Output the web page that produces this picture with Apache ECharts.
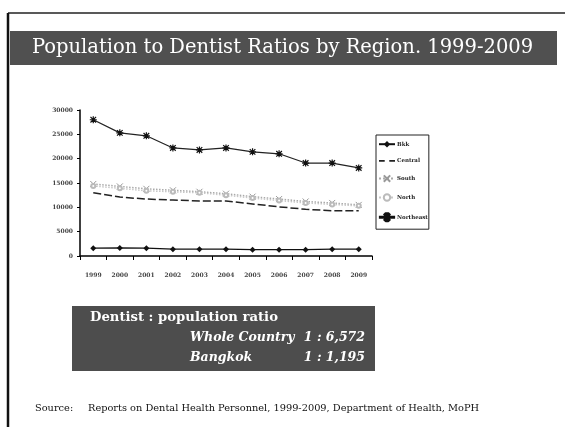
<!DOCTYPE html>
<html><head><meta charset="utf-8">
<script src="https://cdn.jsdelivr.net/npm/echarts@6/dist/echarts.min.js"></script>
<style>html,body{margin:0;padding:0;background:#fff}#c{width:565px;height:427px}</style>
</head><body><div id="c"></div>
<script>
const years = ['1999','2000','2001','2002','2003','2004','2005','2006','2007','2008','2009'];
const yTicks = [0, 5000, 10000, 15000, 20000, 25000, 30000];
const bkk = [1600, 1650, 1600, 1400, 1400, 1400, 1300, 1300, 1300, 1400, 1400];
const central = [13000, 12100, 11700, 11500, 11300, 11300, 10700, 10100, 9600, 9300, 9300];
const south = [14800, 14300, 13800, 13500, 13200, 12800, 12200, 11700, 11200, 10900, 10500];
const north = [14400, 13900, 13400, 13200, 13000, 12500, 11900, 11400, 10900, 10600, 10300];
const northeast = [28000, 25300, 24700, 22200, 21800, 22200, 21400, 21000, 19100, 19100, 18100];
const seriesNames = ['Bkk', 'Central', 'South', 'North', 'Northeast'];

const serif = '"DejaVu Serif", "Liberation Serif", serif';
const chart = echarts.init(document.getElementById('c'));
const star = 'path://M0,-5L0,5M-4,-4L4,4M-4,4L4,-4M-5,0L5,0';
chart.setOption({
  animation: false,
  backgroundColor: '#fff',
  grid: { left: 80, right: 193, top: 110, bottom: 171 },
  xAxis: {
    type: 'category', data: years, boundaryGap: true,
    axisLine: { lineStyle: { color: '#000', width: 1.5 } },
    axisTick: { show: true, length: 4, lineStyle: { color: '#000' } },
    axisLabel: { color: '#444', fontSize: 6, fontFamily: serif, margin: 16, fontWeight: 'bold' },
    splitLine: { show: false }
  },
  yAxis: {
    type: 'value', min: yTicks[0], max: yTicks[yTicks.length - 1], interval: 5000,
    axisLine: { show: true, lineStyle: { color: '#000', width: 1.5 } },
    axisTick: { show: true, length: 3, lineStyle: { color: '#000' } },
    axisLabel: { color: '#444', fontSize: 6, fontFamily: serif, margin: 7, fontWeight: 'bold',
      formatter: v => String(v) },
    splitLine: { show: false }
  },
  legend: {
    orient: 'vertical', left: 376, top: 135, itemGap: 10.5, itemWidth: 16, itemHeight: 8,
    borderColor: '#222', borderWidth: 1, padding: [6, 1, 7, 2],
    textStyle: { fontSize: 5.5, fontFamily: serif, color: '#222', fontWeight: 'bold', padding: [0, 0, 0, -3] },
    data: [
      { name: seriesNames[0] },
      { name: seriesNames[1], icon: 'path://M0,3h5v1.5h-5zM9,3h5v1.5h-5z' },
      { name: seriesNames[2] },
      { name: seriesNames[3] },
      { name: seriesNames[4], icon: 'path://M0,4h16v1.2h-16zM7.4,0h1.2v9h-1.2zM5,1.5l0.8,-0.8l5.2,6.8l-0.8,0.8zM11,1.5l-0.8,-0.8l-5.2,6.8l0.8,0.8z' }
    ]
  },
  series: [
    { name: seriesNames[0], type: 'line', data: bkk, symbol: 'diamond', symbolSize: 6,
      lineStyle: { color: '#111', width: 1.2 }, itemStyle: { color: '#111' } },
    { name: seriesNames[1], type: 'line', data: central, symbol: 'none',
      lineStyle: { color: '#222', width: 1.5, type: [8, 3] }, itemStyle: { color: '#222' } },
    { name: seriesNames[2], type: 'line', data: south, symbol: 'path://M-4,-4L4,4M-4,4L4,-4', symbolSize: 6,
      lineStyle: { color: '#aaa', width: 1.5, type: 'dotted' }, itemStyle: { color: '#fff', borderColor: '#999', borderWidth: 1 } },
    { name: seriesNames[3], type: 'line', data: north, symbol: 'emptyCircle', symbolSize: 4,
      lineStyle: { color: '#c8c8c8', width: 1.5, type: 'dotted' }, itemStyle: { color: '#bbb', borderColor: '#bbb' } },
    { name: seriesNames[4], type: 'line', data: northeast, symbol: star, symbolSize: 7,
      lineStyle: { color: '#222', width: 1.2 }, itemStyle: { color: '#111', borderColor: '#111', borderWidth: 1.2 } }
  ],
  graphic: [
    { type: 'line', shape: { x1: 8, y1: 13, x2: 565, y2: 13 }, style: { stroke: '#222', lineWidth: 1.5 }, z: 10 },
    { type: 'line', shape: { x1: 8, y1: 13, x2: 8, y2: 427 }, style: { stroke: '#111', lineWidth: 2.5 }, z: 10 },
    { type: 'rect', shape: { x: 10, y: 31, width: 547, height: 34 }, style: { fill: '#505050' }, z: 5 },
    { type: 'text', x: 32, y: 48, style: { text: 'Population to Dentist Ratios by Region. 1999-2009', fill: '#fff',
      font: '19.5px ' + serif, textVerticalAlign: 'middle' }, z: 6 },
    { type: 'rect', shape: { x: 72, y: 306, width: 303, height: 65 }, style: { fill: '#4d4d4d' }, z: 5 },
    { type: 'text', x: 90, y: 318, style: { text: 'Dentist : population ratio', fill: '#fff',
      font: 'bold 13.2px ' + serif, textVerticalAlign: 'middle' }, z: 6 },
    { type: 'text', x: 190, y: 338, style: { text: 'Whole Country', fill: '#fff',
      font: 'italic bold 12.5px ' + serif, textVerticalAlign: 'middle' }, z: 6 },
    { type: 'text', x: 365, y: 338, style: { text: '1 : 6,572', fill: '#fff', textAlign: 'right',
      font: 'italic bold 12.5px ' + serif, textVerticalAlign: 'middle' }, z: 6 },
    { type: 'text', x: 190, y: 358, style: { text: 'Bangkok', fill: '#fff',
      font: 'italic bold 12.5px ' + serif, textVerticalAlign: 'middle' }, z: 6 },
    { type: 'text', x: 365, y: 358, style: { text: '1 : 1,195', fill: '#fff', textAlign: 'right',
      font: 'italic bold 12.5px ' + serif, textVerticalAlign: 'middle' }, z: 6 },
    { type: 'text', x: 35, y: 408, style: { text: 'Source:', fill: '#111',
      font: '9.8px ' + serif, textVerticalAlign: 'middle' }, z: 6 },
    { type: 'text', x: 88, y: 408, style: { text: 'Reports on Dental Health Personnel, 1999-2009, Department of Health, MoPH', fill: '#111',
      font: '9.8px ' + serif, textVerticalAlign: 'middle' }, z: 6 }
  ]
});
</script></body></html>
